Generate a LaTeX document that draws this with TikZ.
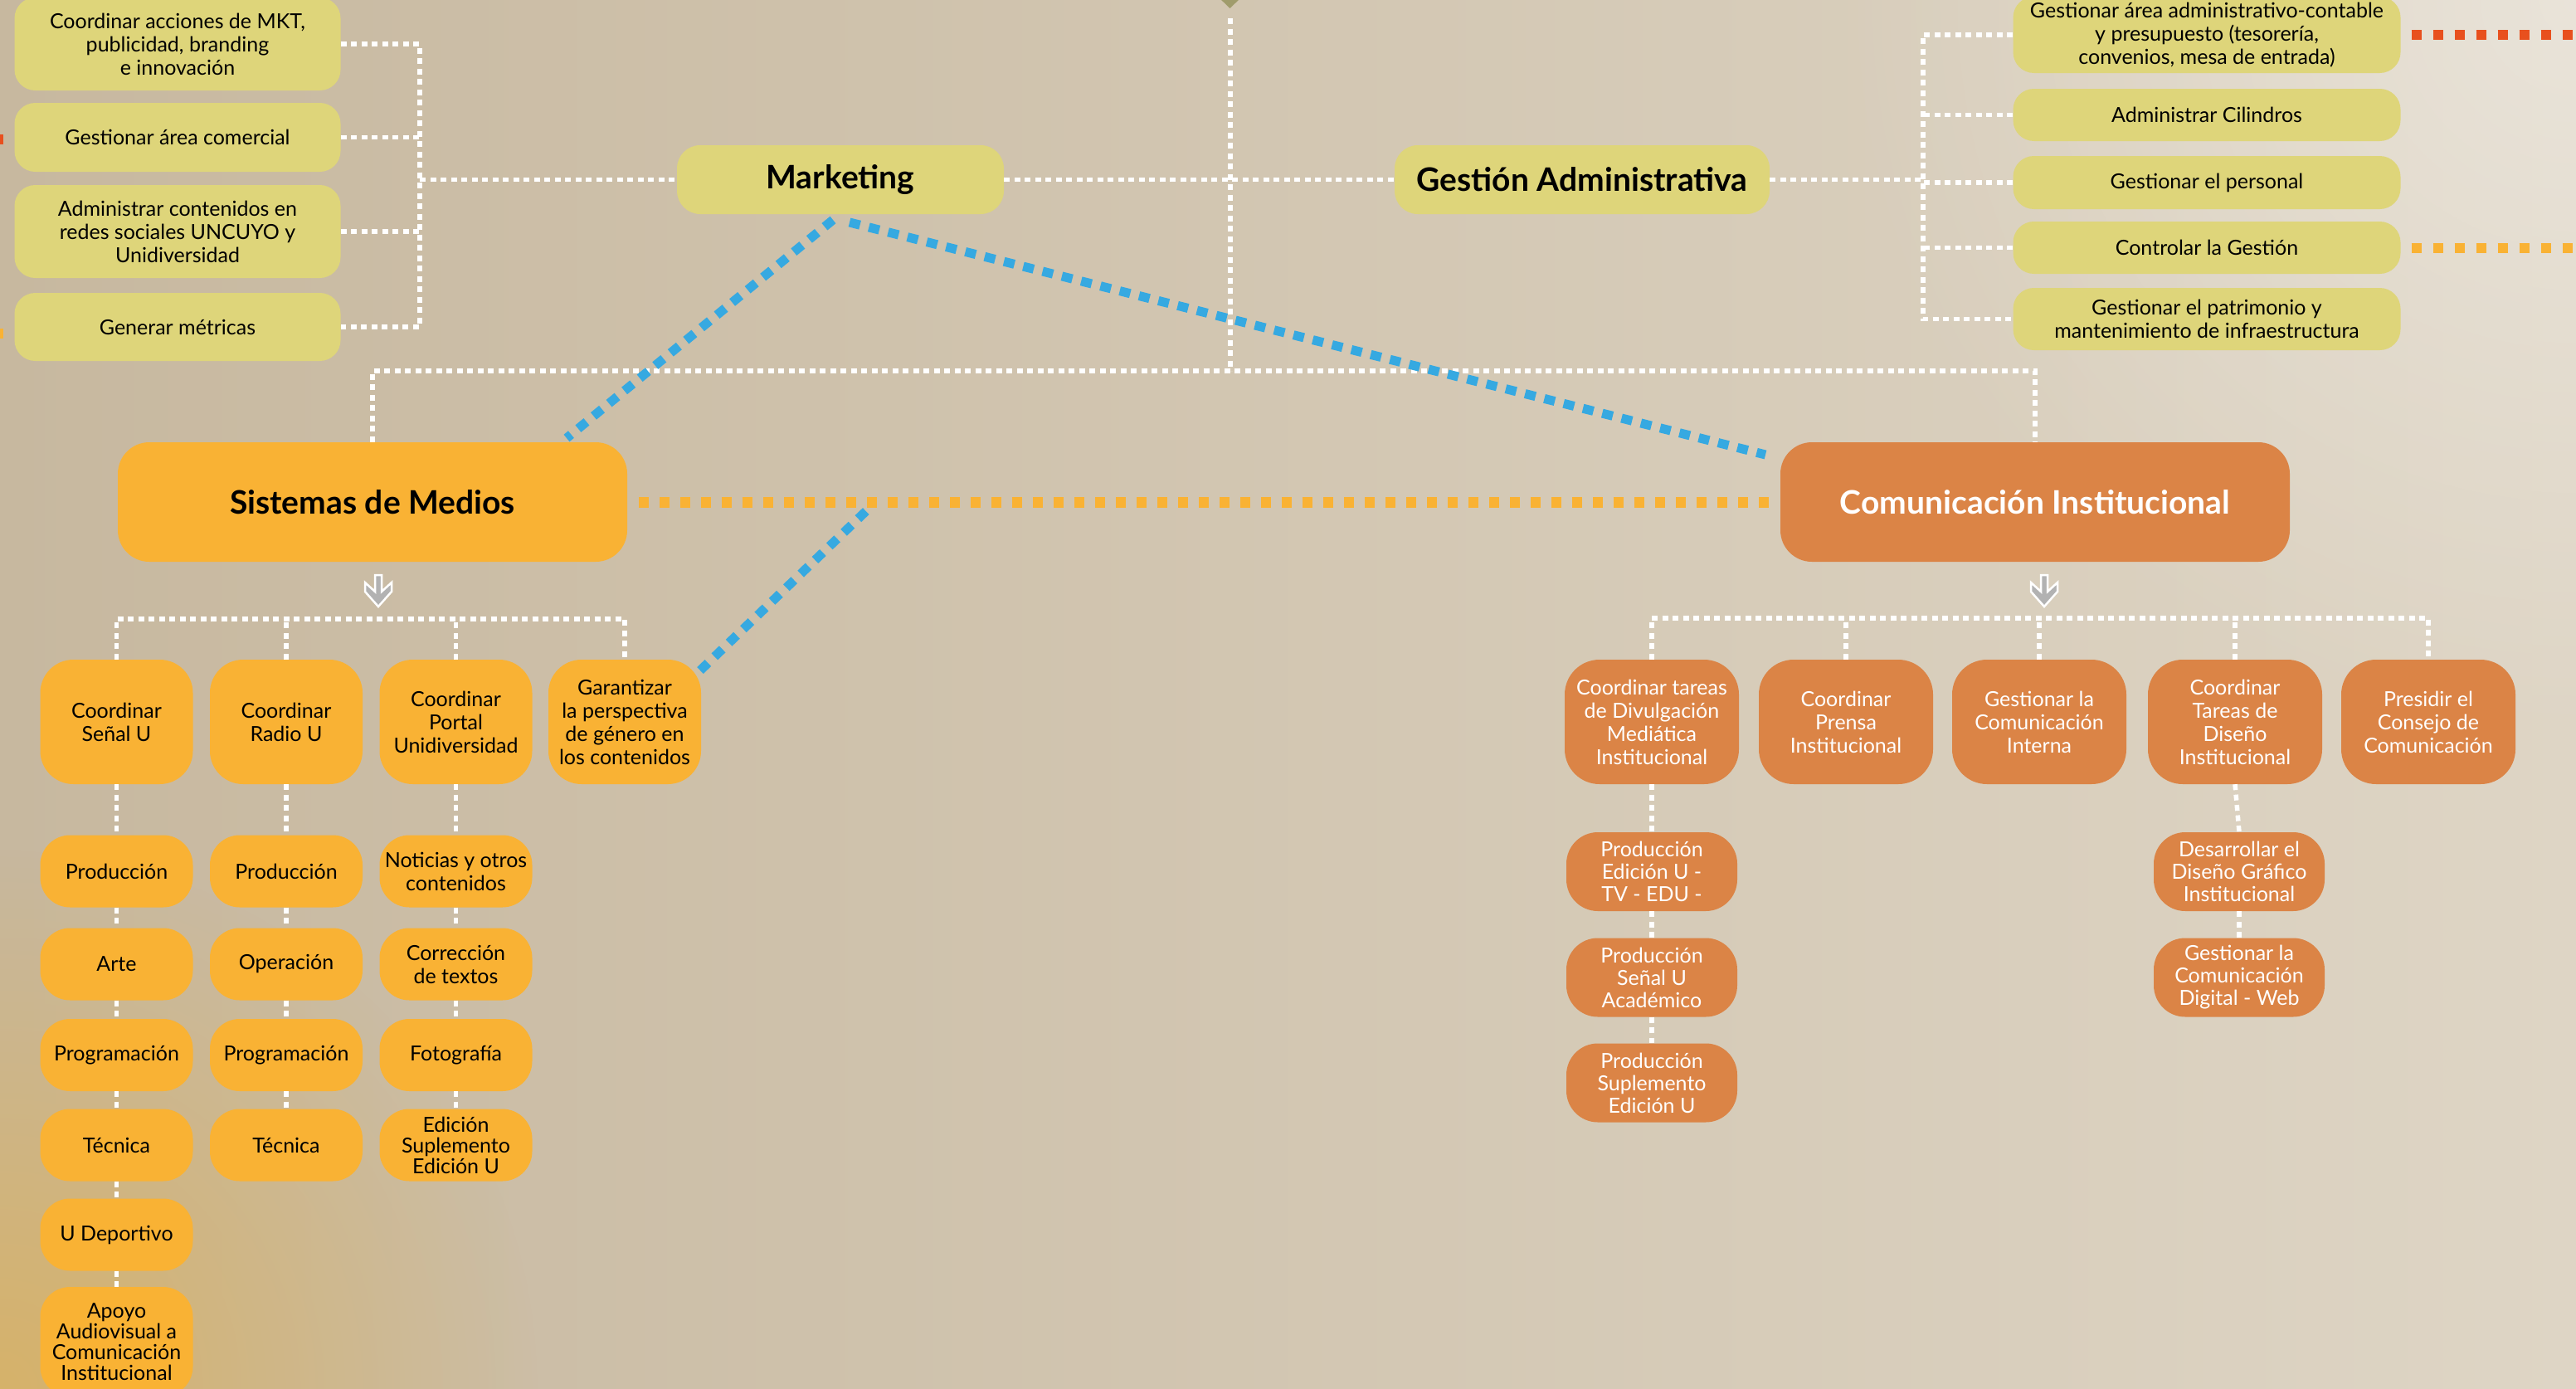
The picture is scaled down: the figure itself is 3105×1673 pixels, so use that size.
\documentclass[tikz,border=0pt]{standalone}
\usepackage{fontspec}
\setmainfont{Lato}
\usetikzlibrary{fadings,calc}
\definecolor{ycol}{RGB}{222,213,122}
\definecolor{ocol}{RGB}{249,178,52}
\definecolor{ccol}{RGB}{219,132,70}
\definecolor{bcol}{RGB}{54,169,225}
\definecolor{rcol}{RGB}{232,80,30}
\definecolor{olcol}{RGB}{160,156,108}
\definecolor{bgL}{RGB}{199,184,159}
\definecolor{bgR}{RGB}{222,213,197}
\definecolor{tint}{RGB}{214,178,106}
\definecolor{arrgray}{RGB}{178,178,178}
\tikzfading[name=myfade, inner color=transparent!0, outer color=transparent!100]
\newcommand{\fsm}{\fontsize{25}{28}\selectfont}
\newcommand{\fbig}{\fontsize{39}{44}\selectfont\bfseries}
\begin{document}
\begin{tikzpicture}[x=1pt,y=-1pt,
 wdot/.style={draw=white, line width=5.5, dash pattern=on 7 off 5.5},
 odash/.style={draw=ocol, line width=13, dash pattern=on 12 off 13},
 rdash/.style={draw=rcol, line width=12, dash pattern=on 12 off 14},
 ordash/.style={draw=ocol, line width=12, dash pattern=on 12 off 14},
 bdash/.style={draw=bcol, line width=11, dash pattern=on 13 off 11},
 box/.style={align=center, inner sep=0, font=\fsm},
 ybox/.style={box, fill=ycol, text=black, rounded corners=25},
 obox/.style={box, fill=ocol, text=black, rounded corners=40},
 cbox/.style={box, fill=ccol, text=white, rounded corners=42},
 title/.style={font=\fbig},
 downarr/.style={fill=arrgray, draw=white, line width=2.5, line join=miter}
]
\useasboundingbox (0,0) rectangle (3105,1673);
\clip (0,0) rectangle (3105,1673);
% background
\shade[left color=bgL, right color=bgR] (0,0) rectangle (3105,1673);
\fill[tint, path fading=myfade] (0,1673) circle (650);
\fill[white, opacity=0.35, path fading=myfade] (3105,0) circle (900);

% edge marks
\fill[rcol] (0,162) rectangle (4,174);
\fill[ocol] (0,396) rectangle (4,408);
\fill[olcol] (1468,-4) -- (1497,-4) -- (1482.5,10) -- cycle;

% ---------- nodes ----------
\node[ybox, minimum width=393, minimum height=112] (tl1) at (214,53) {Coordinar acciones de MKT,\\publicidad, branding\\e innovación};
\node[ybox, minimum width=393, minimum height=83] (tl2) at (214,165.5) {Gestionar área comercial};
\node[ybox, minimum width=393, minimum height=112] (tl3) at (214,279) {Administrar contenidos en\\redes sociales UNCUYO y\\Unidiversidad};
\node[ybox, minimum width=393, minimum height=82] (tl4) at (214,394) {Generar métricas};

\node[ybox, title, minimum width=394, minimum height=83, rounded corners=28] (mk) at (1013,216.5) {Marketing};
\node[ybox, title, minimum width=452, minimum height=83, rounded corners=28] (ga) at (1907,216.5) {Gestión Administrativa};

\node[ybox, minimum width=467, minimum height=92] (rb1) at (2660,42) {Gestionar área administrativo-contable\\y presupuesto (tesorería,\\convenios, mesa de entrada)};
\node[ybox, minimum width=467, minimum height=63] (rb2) at (2660,138.5) {Administrar Cilindros};
\node[ybox, minimum width=467, minimum height=64] (rb3) at (2660,220) {Gestionar el personal};
\node[ybox, minimum width=467, minimum height=63] (rb4) at (2660,298.5) {Controlar la Gestión};
\node[ybox, minimum width=467, minimum height=75] (rb5) at (2660,384.5) {Gestionar el patrimonio y\\mantenimiento de infraestructura};

\node[obox, title, minimum width=614, minimum height=144, rounded corners=38] (sm) at (449,605) {Sistemas de Medios};
\node[cbox, title, minimum width=614, minimum height=144, rounded corners=38] (ci) at (2453,605) {Comunicación Institucional};

% Sistemas children
\node[obox, minimum width=184, minimum height=150] (s1) at (140.5,870) {Coordinar\\Señal U};
\node[obox, minimum width=184, minimum height=150] (s2) at (345,870) {Coordinar\\Radio U};
\node[obox, minimum width=184, minimum height=150] (s3) at (549.5,870) {Coordinar\\Portal\\Unidiversidad};
\node[obox, minimum width=184, minimum height=150] (s4) at (753,870) {Garantizar\\la perspectiva\\de género en\\los contenidos};

\tikzset{cell/.style={obox, minimum width=184, minimum height=87, rounded corners=36}}
\node[cell] (a1) at (140.5,1050) {Producción};
\node[cell] (a2) at (140.5,1162) {Arte};
\node[cell] (a3) at (140.5,1271.5) {Programación};
\node[cell] (a4) at (140.5,1380) {Técnica};
\node[cell] (a5) at (140.5,1488) {U Deportivo};
\node[cell, minimum height=132, font=\fontsize{25}{25}\selectfont] (a6) at (140.5,1617) {Apoyo\\Audiovisual a\\Comunicación\\Institucional};

\node[cell] (b1) at (345,1050) {Producción};
\node[cell] (b2) at (345,1162) {Operación};
\node[cell] (b3) at (345,1271.5) {Programación};
\node[cell] (b4) at (345,1380) {Técnica};

\node[cell] (c1) at (549.5,1050) {Noticias y otros\\contenidos};
\node[cell] (c2) at (549.5,1162) {Corrección\\de textos};
\node[cell] (c3) at (549.5,1271.5) {Fotografía};
\node[cell, font=\fontsize{25}{25}\selectfont] (c4) at (549.5,1380) {Edición\\Suplemento\\Edición U};

% Comunicacion children
\node[cbox, minimum width=210, minimum height=150] (k1) at (1991,870) {Coordinar tareas\\de Divulgación\\Mediática\\Institucional};
\node[cbox, minimum width=210, minimum height=150] (k2) at (2225,870) {Coordinar\\Prensa\\Institucional};
\node[cbox, minimum width=210, minimum height=150] (k3) at (2458,870) {Gestionar la\\Comunicación\\Interna};
\node[cbox, minimum width=210, minimum height=150] (k4) at (2694,870) {Coordinar\\Tareas de\\Diseño\\Institucional};
\node[cbox, minimum width=210, minimum height=150] (k5) at (2927,870) {Presidir el\\Consejo de\\Comunicación};

\tikzset{ccell/.style={cbox, minimum width=206, minimum height=95, rounded corners=38, font=\fontsize{25}{27}\selectfont}}
\node[ccell] (u1) at (1991,1050.5) {Producción\\Edición U -\\TV - EDU -};
\node[ccell] (u2) at (1991,1178) {Producción\\Señal U\\Académico};
\node[ccell] (u3) at (1991,1305) {Producción\\Suplemento\\Edición U};
\node[ccell] (d1) at (2699,1050.5) {Desarrollar el\\Diseño Gráfico\\Institucional};
\node[ccell] (d2) at (2699,1178) {Gestionar la\\Comunicación\\Digital - Web};

% ---------- white dotted connectors ----------
\coordinate (lv) at (506,0);
\draw[wdot] (tl1.east) -- (tl1.east -| lv) -- (tl4.east -| lv) -- (tl4.east);
\draw[wdot] (tl2.east) -- (tl2.east -| lv);
\draw[wdot] (tl3.east) -- (tl3.east -| lv);
\draw[wdot] (mk.west -| lv) -- (mk.west);

\coordinate (ctop) at (1483,22);
\coordinate (cbar) at (1483,447);
\draw[wdot] (ctop) -- (cbar);
\draw[wdot] (mk.east) -- (ga.west);

\coordinate (rv) at (2318,0);
\draw[wdot] (ga.east) -- (ga.east -| rv);
\draw[wdot] (rb1.west) -- (rb1.west -| rv) -- (rb5.west -| rv) -- (rb5.west);
\draw[wdot] (rb2.west) -- (rb2.west -| rv);
\draw[wdot] (rb3.west) -- (rb3.west -| rv);
\draw[wdot] (rb4.west) -- (rb4.west -| rv);

\draw[wdot] (sm.north) -- (sm.north |- cbar) -- (ci.north |- cbar) -- (ci.north);

\coordinate (sbar) at (0,746);
\draw[wdot] (s1.north) -- (s1.north |- sbar) -- (s4.north |- sbar) -- (s4.north);
\draw[wdot] (s2.north) -- (s2.north |- sbar);
\draw[wdot] (s3.north) -- (s3.north |- sbar);

\coordinate (kbar) at (0,745);
\draw[wdot] (k1.north) -- (k1.north |- kbar) -- (k5.north |- kbar) -- (k5.north);
\draw[wdot] (k2.north) -- (k2.north |- kbar);
\draw[wdot] (k3.north) -- (k3.north |- kbar);
\draw[wdot] (k4.north) -- (k4.north |- kbar);

\foreach \p/\q in {s1/a1,a1/a2,a2/a3,a3/a4,a4/a5,a5/a6,s2/b1,b1/b2,b2/b3,b3/b4,s3/c1,c1/c2,c2/c3,c3/c4,k1/u1,u1/u2,u2/u3,k4/d1,d1/d2}
  \draw[wdot] (\p.south) -- (\q.north);

% down arrows
\foreach \cx in {456,2464}{
  \draw[downarr] (\cx-4,693) -- (\cx+4,693) -- (\cx+4,713) -- (\cx+16,702) -- (\cx+16,713) -- (\cx,731) -- (\cx-16,713) -- (\cx-16,702) -- (\cx-4,713) -- cycle;
}

% ---------- coloured links ----------
\draw[odash] ([xshift=14]sm.east) -- ([xshift=-10]ci.west);
\coordinate (redge) at (3110,0);
\draw[rdash] ([xshift=13]rb1.east) -- (rb1.east -| redge);
\draw[ordash] ([xshift=13]rb4.east) -- (rb4.east -| redge);

\coordinate (bm1) at (1004,265);
\coordinate (bs1) at (683,528);
\coordinate (bm2) at (1024,268);
\coordinate (bc2) at (2128,548);
\coordinate (bg3) at (844,808);
\coordinate (bo3) at (1048,612);
\draw[bdash] (bm1) -- (bs1);
\draw[bdash] (bm2) -- (bc2);
\draw[bdash] (bg3) -- (bo3);
\end{tikzpicture}
\end{document}
